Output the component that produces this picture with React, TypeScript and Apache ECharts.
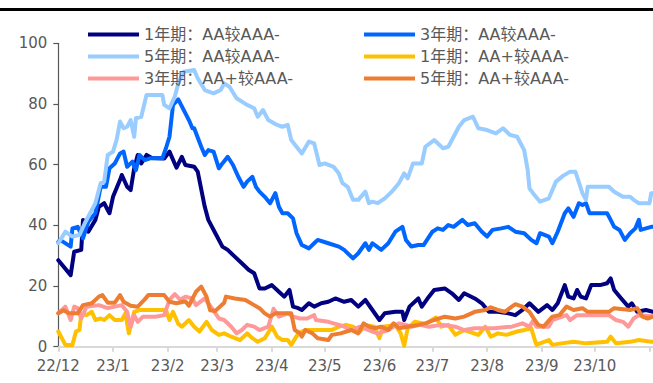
import React, { useEffect, useRef } from "react";
import * as echarts from "echarts";

// x axis: daily categories from 2022-12-01 to 2023-11-03
const startYear = 2022;
const startMonth = 11; // December (0-based)
const dayCount = 338;
const tickLabels = ["22/12", "23/1", "23/2", "23/3", "23/4", "23/5", "23/6", "23/7", "23/8", "23/9", "23/10"];

const seriesNames = [
  "1年期：AA较AAA-",
  "3年期：AA较AAA-",
  "5年期：AA较AAA-",
  "1年期：AA+较AAA-",
  "3年期：AA+较AAA-",
  "5年期：AA+较AAA-",
];
const seriesColors = ["#000080", "#0066ff", "#99ccff", "#ffc000", "#ff9999", "#ed7d31"];

// [day offset from 2022-12-01, value]
const aa1y: number[][] = [[0,28.5],[7,23.6],[9,31.3],[13,31.9],[14,41.8],[17,37.9],[21,41.8],[23,46.1],[26,47.3],[29,44],[31,49.4],[35,55],[36,56.6],[39,52.7],[41,51.6],[43,58.8],[45,63.2],[47,60.4],[50,63.2],[53,62.2],[60,62],[63,64.3],[67,59],[70,62.6],[72,59.9],[77,59.3],[79,57.7],[83,46.1],[85,41.8],[89,37.4],[93,33],[96,31.9],[100,29.7],[104,27.5],[108,25.3],[111,24.2],[114,19.2],[117,19.2],[121,20.3],[125,18.1],[128,16.5],[131,18.7],[133,13.2],[136,12.7],[138,12.1],[142,14.3],[145,13.2],[149,14.3],[153,14.8],[157,15.9],[162,14.8],[166,15.4],[170,13.2],[174,15.4],[178,12.1],[182,8.8],[185,11],[191,11.5],[195,11.5],[196,8.8],[199,13.2],[204,15.9],[206,13.2],[210,16.5],[213,18.7],[219,19.2],[223,17.6],[227,15.4],[230,17.6],[236,15.9],[240,14.3],[244,11.5],[249,11.5],[255,11],[259,10.4],[263,12.1],[267,14.3],[272,11.5],[277,13.7],[280,12.1],[283,14.3],[287,20.3],[289,16.5],[292,15.9],[294,18.7],[296,16.5],[299,15.9],[302,20.3],[307,20.3],[311,20.9],[313,22.5],[315,18.7],[319,15.9],[323,13.2],[325,14.3],[328,11.5],[333,12.1],[337,11.5]];
const aa3y: number[][] = [[0,34.5],[1,35.2],[7,33],[8,39],[11,39.5],[14,35.7],[17,41.2],[21,44],[24,52.7],[27,52.7],[29,58.8],[32,60.4],[35,63.7],[37,64.3],[39,59.3],[42,61],[44,58.2],[46,63.2],[49,61.5],[52,62.1],[59,62.1],[61,65.4],[63,69.2],[65,79.7],[68,81.5],[74,74.7],[76,72],[77,72],[81,65.9],[83,63.2],[85,64.8],[88,64.3],[91,58.8],[93,60.4],[96,62.6],[99,59.9],[102,56],[105,52.7],[107,54.4],[110,56],[112,52.7],[114,51.1],[117,49.4],[120,47.3],[123,50.6],[125,46.1],[127,44],[130,44],[133,42.3],[135,37.4],[138,33.5],[142,32.4],[145,34.1],[147,35.2],[153,34.1],[159,33],[162,31.9],[167,29.1],[170,30.8],[174,34.1],[176,31.9],[178,34.1],[183,31.9],[187,34.1],[191,37.9],[195,39.5],[197,35.2],[200,33],[204,33.5],[207,33.5],[212,37.9],[215,39],[218,38.5],[221,40.1],[224,39.5],[229,41.8],[232,40.1],[236,40.7],[240,37.9],[243,36.3],[246,38.5],[251,39],[255,39.5],[259,37.9],[264,37.4],[268,35.2],[271,34.1],[273,37.4],[278,36.3],[280,34.1],[283,37.9],[287,44],[289,45.6],[292,42.8],[295,47.3],[297,46.7],[299,47.3],[301,44],[311,44],[313,41.8],[315,39.5],[318,38.5],[321,35.2],[324,37.4],[327,39],[329,41.8],[330,38.5],[336,39.5],[337,39.5]];
const aa5y: number[][] = [[0,34.1],[4,37.9],[8,36.3],[12,36.8],[15,40.7],[19,45.1],[21,47.3],[24,53.9],[26,54.4],[28,63.2],[31,64.3],[33,68.1],[35,74.2],[37,72],[39,72.5],[41,74.7],[43,69.2],[44,75.3],[47,75.8],[50,83],[59,83],[60,79.7],[63,78.6],[66,82.4],[68,86.8],[71,90.6],[77,91.2],[79,88.5],[83,84.6],[88,83.5],[92,84.6],[94,86.8],[97,85.7],[101,81.9],[107,79.7],[111,78.6],[113,75.8],[116,78],[119,74.7],[124,73.1],[127,72.5],[130,73.1],[132,68.1],[138,63.7],[142,67.6],[145,67],[148,59.9],[151,60.4],[156,59.3],[159,57.1],[161,53.9],[164,52.7],[167,48.4],[170,48.4],[174,51.1],[176,47.3],[178,47.8],[181,47.3],[185,48.9],[189,51.1],[193,53.9],[196,57.1],[198,55.5],[201,60.4],[206,60.4],[208,65.9],[213,68.1],[218,65.4],[221,65.9],[227,72.5],[230,74.7],[235,75.8],[238,72],[243,71.4],[248,70.3],[252,72],[256,69.8],[260,69.2],[264,64.8],[266,58.2],[267,52.2],[269,50.6],[273,47.8],[278,48.9],[282,54.4],[286,56.3],[290,57.7],[293,57.7],[294,56],[297,50.6],[299,48.4],[300,52.7],[312,52.7],[315,51.1],[320,49.4],[324,49.4],[326,48.4],[329,47.3],[335,47.3],[336,50.6],[337,50.6]];
const aap1y: number[][] = [[0,5],[4,0.6],[8,0.6],[10,5],[12,5.5],[13,11],[16,10.4],[19,11.5],[21,8.8],[24,9.3],[26,8.8],[29,10.4],[32,8.8],[36,8.8],[38,11],[40,4.4],[43,11.5],[46,12.1],[61,12.1],[63,8.8],[65,11.5],[68,7.5],[70,6.6],[74,8.8],[77,6.6],[80,5],[84,8.2],[87,5.5],[91,3.9],[94,4.4],[98,3.3],[103,2.2],[107,4.4],[110,2.8],[113,1.6],[117,2.8],[121,6.6],[124,3.3],[127,2.2],[130,2.2],[132,0.6],[134,2.5],[136,4.4],[140,5.5],[155,5.5],[159,6.6],[163,7.2],[167,6.6],[171,5],[174,7.2],[179,6.6],[182,2.8],[184,6.6],[191,7.2],[194,4.4],[196,0.3],[198,6.1],[202,8.2],[208,7.5],[214,9.6],[217,6.6],[221,7.2],[225,3.9],[230,5.5],[238,3.9],[242,6.6],[245,3.3],[249,4.4],[254,3.9],[260,5],[264,5.5],[268,6.1],[270,2.2],[271,0.6],[273,1.1],[278,2.2],[280,0.6],[285,1.1],[292,1.6],[299,1.1],[311,1.6],[313,3.3],[316,1.1],[324,1.6],[329,2.2],[336,1.6],[337,1.6]];
const aap3y: number[][] = [[0,11],[4,13.2],[7,8.8],[9,13.2],[11,12.7],[13,9.3],[16,13.2],[23,13.7],[28,12.7],[32,13.2],[36,13.7],[39,11.5],[41,6.6],[43,10.4],[45,8.2],[48,9.9],[55,9.9],[60,10.4],[63,15.4],[66,17.3],[69,15.5],[72,16.5],[76,15.9],[78,13.7],[83,15.9],[87,12.7],[91,9.3],[94,8.8],[98,6.6],[101,4.4],[104,5.5],[107,7.2],[111,6.6],[114,5.5],[119,6.6],[122,12.5],[125,9.9],[130,11],[133,9.9],[137,9.3],[141,9.3],[145,10.4],[146,8.8],[153,8.2],[159,7.2],[162,6.6],[166,5.5],[171,6.6],[178,5],[181,4.4],[187,5.5],[193,7.7],[197,7.2],[200,6.6],[205,7.2],[210,6.6],[217,7.2],[225,6.6],[230,5.5],[236,6.1],[247,6.1],[257,6.6],[263,7.7],[267,6.6],[269,8.5],[271,6.6],[278,6.6],[280,8.8],[288,10.4],[290,8.8],[294,10.4],[312,10.4],[316,8.8],[320,8.2],[323,6.6],[326,9.3],[329,10.4],[337,10]];
const aap5y: number[][] = [[0,11],[3,12],[6,11],[11,11],[14,13.7],[19,14.3],[23,16.5],[25,17],[28,14.5],[32,14.5],[35,17],[37,14.8],[41,13.5],[45,13.2],[49,15.6],[51,17],[60,17],[63,14.8],[67,14.3],[72,15],[74,13.5],[78,18.1],[81,19.8],[84,16.5],[86,12],[89,11.8],[94,14.5],[95,16.5],[100,15.9],[106,15.4],[111,13.7],[114,12.7],[117,11],[120,9.9],[123,11],[132,11],[134,5.5],[137,4.4],[138,3.3],[140,5.5],[144,4.4],[147,2.8],[153,2.2],[155,3.9],[160,4.4],[166,5.5],[170,4.4],[173,7.7],[176,6.6],[179,6.1],[183,6.6],[187,5.5],[190,7.7],[193,6.1],[198,6.6],[204,7.2],[208,7.7],[213,8.8],[219,9.9],[225,9.3],[230,9.9],[236,11.5],[242,12.1],[245,13],[249,12.1],[253,11.5],[257,13.2],[259,14],[263,13.2],[267,11.5],[270,8.8],[272,7.2],[275,6.6],[280,9.9],[284,10.4],[288,13.2],[292,12.1],[297,12.7],[300,11.5],[312,11.5],[315,12.7],[324,12.1],[328,12.7],[331,9.9],[334,9.3],[337,9.9]];

const seriesData = [aa1y, aa3y, aa5y, aap1y, aap3y, aap5y];

const FONT = "'DejaVu Sans', 'Noto Sans CJK SC', sans-serif";

function pad(n: number) {
  return n < 10 ? "0" + n : "" + n;
}

const categories: string[] = [];
for (let i = 0; i < dayCount; i++) {
  const d = new Date(startYear, startMonth, 1 + i);
  categories.push(`${d.getFullYear()}-${pad(d.getMonth() + 1)}-${pad(d.getDate())}`);
}

function shortLabel(v: string) {
  const [y, m] = v.split("-");
  return `${y.slice(2)}/${parseInt(m, 10)}`;
}

export default function App() {
  const ref = useRef<HTMLDivElement>(null);
  useEffect(() => {
    document.body.style.margin = "0";
    if (!ref.current) return;
    const chart = echarts.init(ref.current, undefined, { renderer: "svg" });
    const isMonthStart = (_i: number, v: string) => v.endsWith("-01");
    const showLabel = (_i: number, v: string) => v.endsWith("-01") && tickLabels.indexOf(shortLabel(v)) >= 0;
    const legendBase = {
      orient: "vertical" as const,
      top: 26.5,
      padding: 0,
      itemWidth: 51,
      itemHeight: 4,
      itemGap: 6,
      itemTextGap: 4,
      icon: "rect",
      textStyle: { fontSize: 16, color: "#595959", fontFamily: FONT, lineHeight: 16 },
    };
    chart.setOption({
      animation: false,
      graphic: [
        {
          type: "line",
          shape: { x1: 0, y1: 9.5, x2: 653, y2: 9.5 },
          style: { stroke: "#000", lineWidth: 3 },
        },
      ],
      legend: [
        { ...legendBase, left: 88, data: [seriesNames[0], seriesNames[2], seriesNames[4]] },
        { ...legendBase, left: 364, data: [seriesNames[1], seriesNames[3], seriesNames[5]] },
      ],
      grid: { left: 58.3, right: 0, top: 43.3, bottom: 36.3 },
      xAxis: {
        type: "category",
        data: categories,
        boundaryGap: false,
        axisLine: { lineStyle: { color: "#d9d9d9", width: 2 } },
        axisTick: { interval: isMonthStart, length: 5, lineStyle: { color: "#d9d9d9", width: 2 } },
        axisLabel: {
          interval: showLabel,
          formatter: (v: string) => shortLabel(v),
          color: "#595959",
          fontSize: 15,
          fontFamily: FONT,
          margin: 12,
        },
        splitLine: { show: false },
      },
      yAxis: {
        type: "value",
        min: 0,
        max: 100,
        interval: 20,
        axisLine: { show: true, lineStyle: { color: "#595959", width: 1.2 } },
        axisTick: { show: true, length: 5, lineStyle: { color: "#595959", width: 1.2 } },
        axisLabel: { color: "#595959", fontSize: 15, fontFamily: FONT, margin: 11 },
        splitLine: { show: false },
      },
      series: seriesNames.map((name, i) => ({
        name,
        type: "line",
        data: seriesData[i].map((p) => [categories[p[0]], p[1]]),
        symbol: "none",
        color: seriesColors[i],
        lineStyle: { width: 4, color: seriesColors[i], join: "round", cap: "round" },
        emphasis: { disabled: true },
      })),
    });
    return () => chart.dispose();
  }, []);
  return <div ref={ref} style={{ width: 653, height: 383 }} />;
}
